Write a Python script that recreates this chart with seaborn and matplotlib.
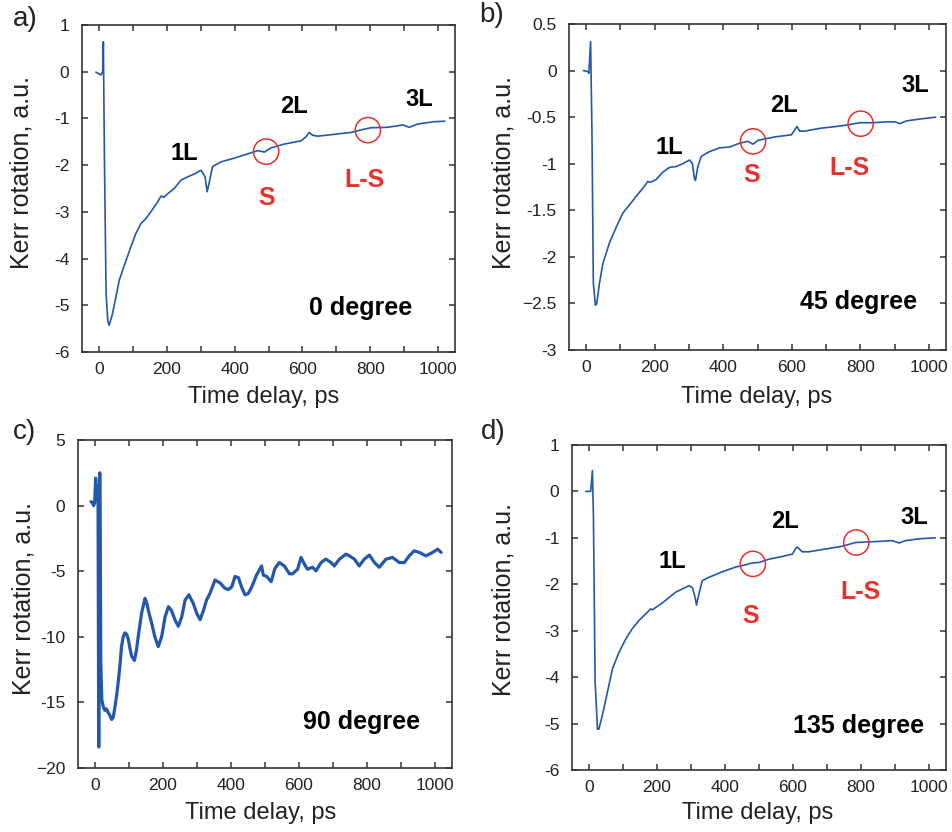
import matplotlib
matplotlib.use("Agg")
import matplotlib.pyplot as plt
import seaborn as sns
import pandas as pd

# ──────────────────────────────
#  Data
# ──────────────────────────────
# a) 0 degree
t_a = [-9, 6, 11, 13, 16, 21, 26, 30, 40, 50, 60, 75, 94, 109, 124, 139, 153, 173,
       183, 191, 203, 222, 242, 262, 281, 301, 313, 319, 325, 335, 360, 399, 438,
       468, 488, 507, 546, 596, 611, 620, 630, 645, 694, 743, 782, 802, 851, 896,
       915, 940, 989, 1020]
k_a = [-0.01, -0.07, 0.0, 0.64, -1.75, -4.75, -5.32, -5.43, -5.18, -4.82, -4.46,
       -4.14, -3.75, -3.46, -3.25, -3.14, -3.0, -2.79, -2.66, -2.69, -2.61, -2.5,
       -2.32, -2.25, -2.19, -2.11, -2.25, -2.57, -2.38, -2.03, -1.93, -1.85, -1.76,
       -1.69, -1.72, -1.63, -1.55, -1.48, -1.39, -1.30, -1.36, -1.38, -1.34, -1.30,
       -1.23, -1.20, -1.19, -1.14, -1.19, -1.12, -1.07, -1.06]

# b) 45 degree
t_b = [-8, 5, 8, 13, 17, 21, 27, 31, 39, 49, 68, 88, 107, 127, 146, 166, 180, 187,
       204, 224, 243, 263, 282, 302, 310, 316, 319, 326, 336, 360, 389, 419, 448,
       472, 487, 501, 526, 555, 599, 608, 615, 623, 638, 682, 730, 769, 798, 837,
       876, 901, 915, 935, 974, 1020]
k_b = [0.0, -0.01, -0.03, 0.31, -0.67, -2.28, -2.52, -2.5, -2.28, -2.07, -1.85,
       -1.68, -1.53, -1.44, -1.35, -1.26, -1.19, -1.2, -1.17, -1.09, -1.04, -1.03,
       -1.0, -0.96, -1.0, -1.16, -1.18, -1.03, -0.92, -0.87, -0.83, -0.82, -0.78,
       -0.76, -0.79, -0.75, -0.73, -0.71, -0.69, -0.64, -0.60, -0.65, -0.65, -0.62,
       -0.60, -0.58, -0.56, -0.56, -0.55, -0.55, -0.57, -0.54, -0.52, -0.50]

# c) 90 degree
t_c = [-12, -8, -4, -1, 2, 4, 6, 9, 11, 13, 14, 15, 17, 20, 24, 29, 34, 39, 44, 49,
       54, 59, 64, 69, 74, 78, 83, 88, 93, 98, 103, 108, 116, 122, 127, 132, 137,
       147, 152, 157, 167, 176, 186, 196, 206, 216, 225, 235, 245, 255, 265, 276,
       289, 299, 309, 319, 328, 338, 353, 368, 382, 392, 402, 412, 422, 431, 441,
       451, 461, 475, 490, 495, 505, 518, 529, 542, 557, 572, 581, 596, 606, 616,
       625, 640, 650, 665, 679, 694, 704, 719, 738, 748, 763, 777, 792, 807, 822,
       836, 856, 875, 895, 910, 924, 939, 954, 973, 993, 1008, 1018]
k_c = [0.3, 0.25, 0.0, 0.2, 2.1, 1.0, 1.5, 0.2, -18.4, 1.0, 2.5, 0.8, -12.0, -14.8,
       -15.3, -15.6, -15.5, -15.8, -16.0, -16.3, -16.1, -15.3, -14.4, -13.3, -12.0,
       -10.75, -10.0, -9.7, -9.8, -10.2, -10.9, -11.5, -11.8, -11.0, -10.0, -9.1,
       -8.2, -7.07, -7.4, -8.0, -9.0, -10.0, -10.75, -10.0, -8.5, -7.7, -8.0, -8.7,
       -9.2, -8.5, -7.2, -6.8, -7.45, -8.2, -8.7, -8.0, -7.2, -6.7, -5.67, -5.9,
       -6.3, -6.4, -6.2, -5.4, -5.5, -6.2, -6.8, -6.7, -6.2, -5.3, -4.6, -5.3, -5.4,
       -5.8, -4.8, -4.34, -4.6, -5.2, -5.2, -4.85, -3.95, -4.47, -4.85, -4.7, -4.97,
       -4.34, -4.08, -4.34, -4.6, -4.08, -3.7, -3.83, -4.08, -4.6, -4.08, -3.77,
       -4.34, -4.7, -4.08, -3.95, -4.34, -4.34, -3.83, -3.45, -3.57, -3.83, -3.57,
       -3.32, -3.57]

# d) 135 degree
t_d = [-10, 5, 10, 13, 18, 25, 29, 39, 54, 69, 88, 108, 127, 147, 172, 181, 186,
       216, 255, 294, 304, 312, 316, 322, 333, 353, 392, 431, 461, 480, 500, 529,
       569, 598, 608, 613, 627, 647, 696, 745, 784, 843, 892, 912, 931, 971, 1018]
k_d = [0.0, 0.0, 0.45, -0.52, -4.1, -5.12, -5.12, -4.83, -4.33, -3.82, -3.47, -3.18,
       -2.96, -2.78, -2.6, -2.53, -2.55, -2.4, -2.17, -2.03, -2.07, -2.28, -2.45,
       -2.25, -1.92, -1.85, -1.73, -1.63, -1.58, -1.54, -1.53, -1.46, -1.4, -1.35,
       -1.23, -1.2, -1.3, -1.3, -1.24, -1.18, -1.1, -1.08, -1.06, -1.11, -1.06,
       -1.02, -1.0]

# x ticks (labelled every 200, tick marks every 100)
xt_lab = [0, 200, 400, 600, 800, 1000]
xt_marks = [0, 100, 200, 300, 400, 500, 600, 700, 800, 900, 1000]

# y ticks per panel
yt_a = [-6, -5, -4, -3, -2, -1, 0, 1]
yl_a = ["-6", "-5", "-4", "-3", "-2", "-1", "0", "1"]
yt_b = [-3, -2.5, -2, -1.5, -1, -0.5, 0, 0.5]
yl_b = ["-3", "\u22122.5", "-2", "-1.5", "-1", "-0.5", "0", "0.5"]
yt_c = [-20, -15, -10, -5, 0, 5]
yl_c = ["\u221220", "-15", "-10", "-5", "0", "5"]
yt_d = [-6, -5, -4, -3, -2, -1, 0, 1]
yl_d = ["-6", "-5", "-4", "-3", "-2", "-1", "0", "1"]

# circled points (S, L-S)
circ_a = ([493, 793], [-1.71, -1.25])
circ_b = ([487, 801], [-0.76, -0.57])
circ_d = ([482, 786], [-1.56, -1.10])

# annotation texts: (text, t, value)
lab_a = [("1L", 252, -1.75), ("2L", 576, -0.74), ("3L", 946, -0.59)]
red_a = [("S", 494, -2.71), ("L-S", 783, -2.32)]
lab_b = [("1L", 243, -0.83), ("2L", 577, -0.38), ("3L", 959, -0.155)]
red_b = [("S", 482, -1.12), ("L-S", 769, -1.05)]
lab_d = [("1L", 245, -1.50), ("2L", 576, -0.65), ("3L", 956, -0.56)]
red_d = [("S", 475, -2.69), ("L-S", 799, -2.17)]

BLUE = "#2357ad"
RED = "#e8302c"
DARK = "#222222"
EDGE = "#333333"

sns.set_style("ticks")
plt.rcParams["font.family"] = ["Liberation Sans", "DejaVu Sans"]

fig = plt.figure(figsize=(9.52, 8.32), dpi=100)


def panel(rect, t, k, ylim, yt, yl, deg, deg_pos, letter, letter_xy,
          ylab_xy, xlab_xy, lw=1.2, circ=None, labs=(), reds=()):
    ax = fig.add_axes(rect)
    df = pd.DataFrame({"t": t, "k": k})
    sns.lineplot(data=df, x="t", y="k", ax=ax, color=BLUE, lw=lw,
                 sort=False, estimator=None)
    ax.set_xlim(-50, 1050)
    ax.set_ylim(*ylim)
    ax.set_xticks(xt_lab)
    ax.set_yticks(yt, yl)
    ax.tick_params(length=0)
    ax.tick_params(axis="x", labelsize=12.5, pad=7, labelcolor=DARK)
    ax.tick_params(axis="y", labelsize=12.5, pad=9, labelcolor=DARK)

    # inward tick marks on all four sides
    fx = 6 / (rect[3] * 832)
    fy = 6 / (rect[2] * 952)
    xtr = ax.get_xaxis_transform()
    ytr = ax.get_yaxis_transform()
    ax.vlines(xt_marks, 0, fx, transform=xtr, color=EDGE, lw=1.1, clip_on=False)
    ax.vlines(xt_marks, 1 - fx, 1, transform=xtr, color=EDGE, lw=1.1, clip_on=False)
    ax.hlines(yt, 0, fy, transform=ytr, color=EDGE, lw=1.1, clip_on=False)
    ax.hlines(yt, 1 - fy, 1, transform=ytr, color=EDGE, lw=1.1, clip_on=False)

    for sp in ax.spines.values():
        sp.set_linewidth(1.2)
        sp.set_color(EDGE)
    ax.set_xlabel("Time delay, ps", fontsize=17, color=DARK)
    ax.set_ylabel("Kerr rotation, a.u.", fontsize=18, color=DARK)
    ax.xaxis.label.set_va("center")
    ax.yaxis.label.set_va("center")
    ax.xaxis.set_label_coords(*xlab_xy)
    ax.yaxis.set_label_coords(*ylab_xy)

    if circ is not None:
        ax.scatter(circ[0], circ[1], s=330, facecolors="none",
                   edgecolors=RED, linewidths=1.1, zorder=5)
    for s, x, y in labs:
        ax.text(x, y, s, fontsize=17, fontweight="bold", color="black",
                ha="center", va="center")
    for s, x, y in reds:
        ax.text(x, y, s, fontsize=18, fontweight="bold", color=RED,
                ha="center", va="center")
    ax.text(deg_pos[0], deg_pos[1], deg, fontsize=18, fontweight="bold",
            color="black", ha="center", va="center")
    fig.text(letter_xy[0] / 952, 1 - letter_xy[1] / 832, letter, fontsize=20,
             color=DARK, ha="center", va="center")
    return ax


panel([82 / 952, 1 - 352 / 832, 373 / 952, 327 / 832], t_a, k_a, (-6, 1),
      yt_a, yl_a, "0 degree", (773, -5.06), "a)", (25, 19),
      (-0.161, 0.55), (0.488, -0.138), circ=circ_a, labs=lab_a, reds=red_a)

panel([569 / 952, 1 - 350 / 832, 377 / 952, 326 / 832], t_b, k_b, (-3, 0.5),
      yt_b, yl_b, "45 degree", (794, -2.49), "b)", (492, 15),
      (-0.175, 0.546), (0.499, -0.144), circ=circ_b, labs=lab_b, reds=red_b)

panel([78 / 952, 1 - 768 / 832, 374 / 952, 328 / 832], t_c, k_c, (-20, 5),
      yt_c, yl_c, "90 degree", (785, -16.5), "c)", (25, 432),
      (-0.147, 0.518), (0.487, -0.137), lw=2.3)

panel([572 / 952, 1 - 770 / 832, 374 / 952, 325 / 832], t_d, k_d, (-6, 1),
      yt_d, yl_d, "135 degree", (794, -5.06), "d)", (493, 432),
      (-0.184, 0.526), (0.497, -0.132), circ=circ_d, labs=lab_d, reds=red_d)

fig.savefig("out.png", dpi=100)
